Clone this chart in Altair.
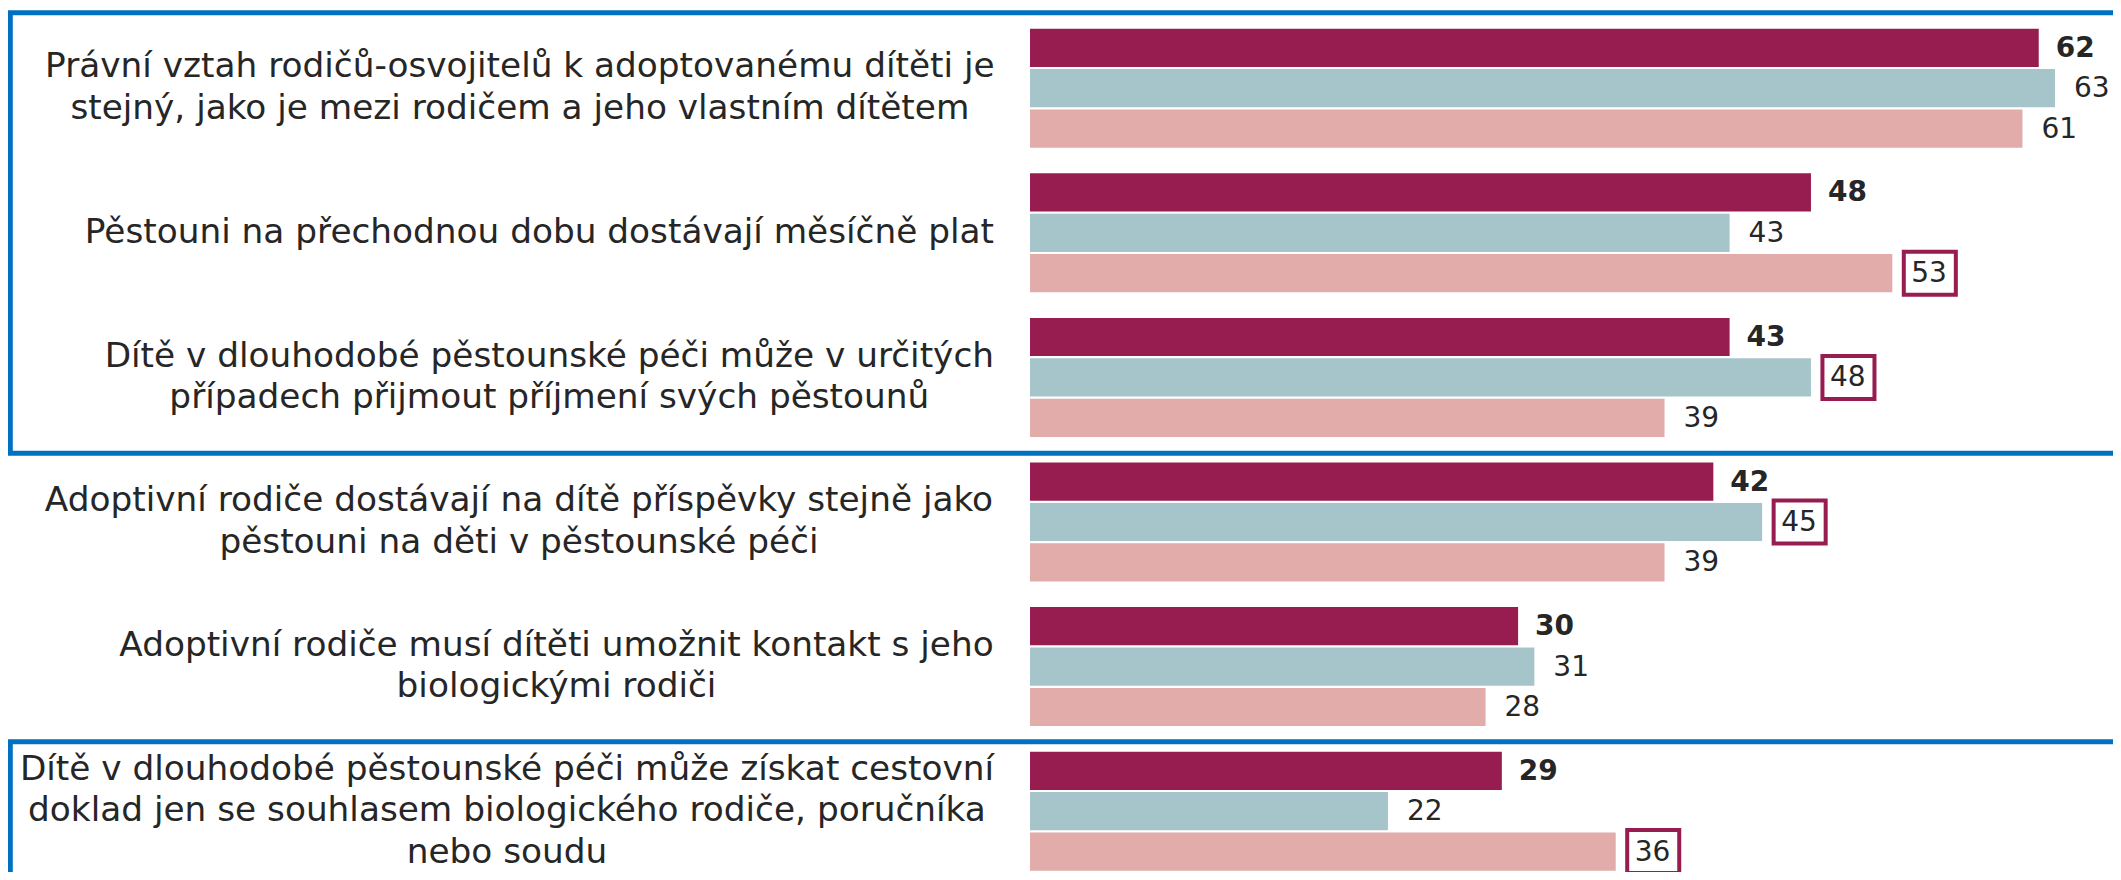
import glob
import struct

import altair as alt
import pandas as pd

# ---------------- data ----------------
questions = [
    ["Právní vztah rodičů-osvojitelů k adoptovanému dítěti je",
     "stejný, jako je mezi rodičem a jeho vlastním dítětem"],
    ["Pěstouni na přechodnou dobu dostávají měsíčně plat"],
    ["Dítě v dlouhodobé pěstounské péči může v určitých",
     "případech přijmout příjmení svých pěstounů"],
    ["Adoptivní rodiče dostávají na dítě příspěvky stejně jako",
     "pěstouni na děti v pěstounské péči"],
    ["Adoptivní rodiče musí dítěti umožnit kontakt s jeho",
     "biologickými rodiči"],
    ["Dítě v dlouhodobé pěstounské péči může získat cestovní",
     "doklad jen se souhlasem biologického rodiče, poručníka",
     "nebo soudu"],
]
series = ["Série 1", "Série 2", "Série 3"]
values_1 = [62, 48, 43, 42, 30, 29]
values_2 = [63, 43, 48, 45, 31, 22]
values_3 = [61, 53, 39, 39, 28, 36]
highlight_1 = [False, False, False, False, False, False]
highlight_2 = [False, False, True, True, False, False]
highlight_3 = [False, True, False, False, False, True]

# ---------------- style / layout ----------------
W, H = 2105, 864
FONT = "DejaVu Sans"
LABEL_SIZE = 34.3
LINE_H = 41.5
VALUE_SIZE = 28
LABEL_RIGHT = 987
X0 = 1022
PX_PER_UNIT = 16.27
X_MAX = 66
Y_RANGE = [20.7, 862.7]
GROUP_PAD = 0.177
BAR_PAD = 0.055
COLORS = ["#971C50", "#A6C5CB", "#E1ACAA"]
FRAME = "#0070C0"
TEXT = "#262626"


def make_measure():
    paths = glob.glob("/usr/share/fonts/**/DejaVuSans.ttf", recursive=True)
    if not paths:
        return lambda s, size: len(s) * 0.58 * size
    data = open(paths[0], "rb").read()
    num = struct.unpack(">H", data[4:6])[0]
    tables = {}
    for i in range(num):
        tag, _cs, off, ln = struct.unpack(">4sIII", data[12 + 16 * i:28 + 16 * i])
        tables[tag.decode("latin1")] = off
    head = tables["head"]
    upem = struct.unpack(">H", data[head + 18:head + 20])[0]
    hhea = tables["hhea"]
    nhm = struct.unpack(">H", data[hhea + 34:hhea + 36])[0]
    hmtx = tables["hmtx"]
    adv = [struct.unpack(">H", data[hmtx + 4 * i:hmtx + 4 * i + 2])[0] for i in range(nhm)]
    cmap = tables["cmap"]
    n = struct.unpack(">H", data[cmap + 2:cmap + 4])[0]
    sub = None
    for i in range(n):
        pid, eid, off = struct.unpack(">HHI", data[cmap + 4 + 8 * i:cmap + 12 + 8 * i])
        fmt = struct.unpack(">H", data[cmap + off:cmap + off + 2])[0]
        if fmt == 4:
            sub = cmap + off
            break
    if sub is None:
        return lambda s, size: len(s) * 0.58 * size
    segx2 = struct.unpack(">H", data[sub + 6:sub + 8])[0]
    seg = segx2 // 2
    ends = struct.unpack(">%dH" % seg, data[sub + 14:sub + 14 + segx2])
    starts = struct.unpack(">%dH" % seg, data[sub + 16 + segx2:sub + 16 + 2 * segx2])
    deltas = struct.unpack(">%dh" % seg, data[sub + 16 + 2 * segx2:sub + 16 + 3 * segx2])
    rpos = sub + 16 + 3 * segx2
    roffs = struct.unpack(">%dH" % seg, data[rpos:rpos + segx2])

    def glyph(ch):
        code = ord(ch)
        for i in range(seg):
            if starts[i] <= code <= ends[i]:
                if roffs[i] == 0:
                    return (code + deltas[i]) & 0xFFFF
                addr = rpos + 2 * i + roffs[i] + 2 * (code - starts[i])
                g = struct.unpack(">H", data[addr:addr + 2])[0]
                return (g + deltas[i]) & 0xFFFF if g else 0
        return 0

    def measure(s, size):
        tot = 0
        for ch in s:
            g = glyph(ch)
            tot += adv[g] if g < nhm else adv[-1]
        return tot * size / upem

    return measure


measure = make_measure()

q_ids = [" ".join(q) for q in questions]

rows = []
for s_name, vals, hls in zip(series, [values_1, values_2, values_3],
                             [highlight_1, highlight_2, highlight_3]):
    for q, v, h in zip(q_ids, vals, hls):
        rows.append({"q": q, "series": s_name, "value": v, "hl": h,
                     "bold": s_name == series[0]})
df = pd.DataFrame(rows)

# one row per label line; block of lines centred on its group, lines centred
lab_rows = []
for q, lines in zip(q_ids, questions):
    n = len(lines)
    wmax = max(measure(l, LABEL_SIZE) for l in lines)
    for k, line in enumerate(lines):
        lab_rows.append({"q": q, "line": line, "lx": LABEL_RIGHT - wmax / 2,
                         "slot": 2 * k - (n - 1)})
df_lab = pd.DataFrame(lab_rows)

y_enc = alt.Y("q:N", sort=q_ids, axis=None,
              scale=alt.Scale(range=Y_RANGE, paddingInner=GROUP_PAD, paddingOuter=0))
yo_enc = alt.YOffset("series:N", sort=series,
                     scale=alt.Scale(paddingInner=BAR_PAD, paddingOuter=0))
x_enc = alt.X("value:Q", axis=None,
              scale=alt.Scale(domain=[0, X_MAX], range=[X0, X0 + X_MAX * PX_PER_UNIT],
                              nice=False, zero=True))

base = alt.Chart(df)

bars = base.mark_bar(cornerRadius=0).encode(
    x=x_enc,
    y=y_enc,
    yOffset=yo_enc,
    color=alt.Color("series:N", sort=series,
                    scale=alt.Scale(domain=series, range=COLORS), legend=None),
)

box_shape = "M-1.21,-1L1.21,-1L1.21,1L-1.21,1Z"
boxes = base.transform_filter("datum.hl").mark_point(
    shape=box_shape, size=43 * 43, fill="white", stroke=COLORS[0],
    strokeWidth=4, opacity=1, fillOpacity=1, strokeOpacity=1, filled=True,
    xOffset=37.5,
).encode(x=x_enc, y=y_enc, yOffset=yo_enc)

txt_bold = base.transform_filter("datum.bold").mark_text(
    align="left", baseline="middle", dx=17, dy=1, font=FONT,
    fontSize=VALUE_SIZE, fontWeight="bold", color=TEXT,
).encode(x=x_enc, y=y_enc, yOffset=yo_enc, text="value:Q")

txt_norm = base.transform_filter("!datum.bold").mark_text(
    align="left", baseline="middle", dx=19, dy=1, font=FONT,
    fontSize=VALUE_SIZE, fontWeight="normal", color=TEXT,
).encode(x=x_enc, y=y_enc, yOffset=yo_enc, text="value:Q")

label_layers = []
for slot in sorted(df_lab["slot"].unique()):
    label_layers.append(
        alt.Chart(df_lab).transform_filter(alt.datum.slot == int(slot)).mark_text(
            align="center", baseline="middle", dy=float(slot) * LINE_H / 2,
            font=FONT, fontSize=LABEL_SIZE, color=TEXT,
        ).encode(
            x=alt.X("lx:Q", scale=None, axis=None),
            y=y_enc,
            text="line:N",
        )
    )

one = pd.DataFrame({"k": [0]})
frame1 = alt.Chart(one).mark_rect(
    fill="white", fillOpacity=0, stroke=FRAME, strokeWidth=5,
).encode(x=alt.value(2.3), x2=alt.value(W + 60), y=alt.value(4.7), y2=alt.value(445.3))
frame2 = alt.Chart(one).mark_rect(
    fill="white", fillOpacity=0, stroke=FRAME, strokeWidth=5,
).encode(x=alt.value(2.3), x2=alt.value(W + 60), y=alt.value(733.7), y2=alt.value(H + 60))

chart = alt.layer(frame1, frame2, bars, boxes, txt_bold, txt_norm, *label_layers).resolve_scale(
    x="independent"
).properties(
    width=W, height=H, padding=0,
    autosize=alt.AutoSizeParams(type="none"),
    background="white",
).configure_view(stroke=None)

chart.save("out.html", embed_options={"renderer": "svg", "actions": False})
